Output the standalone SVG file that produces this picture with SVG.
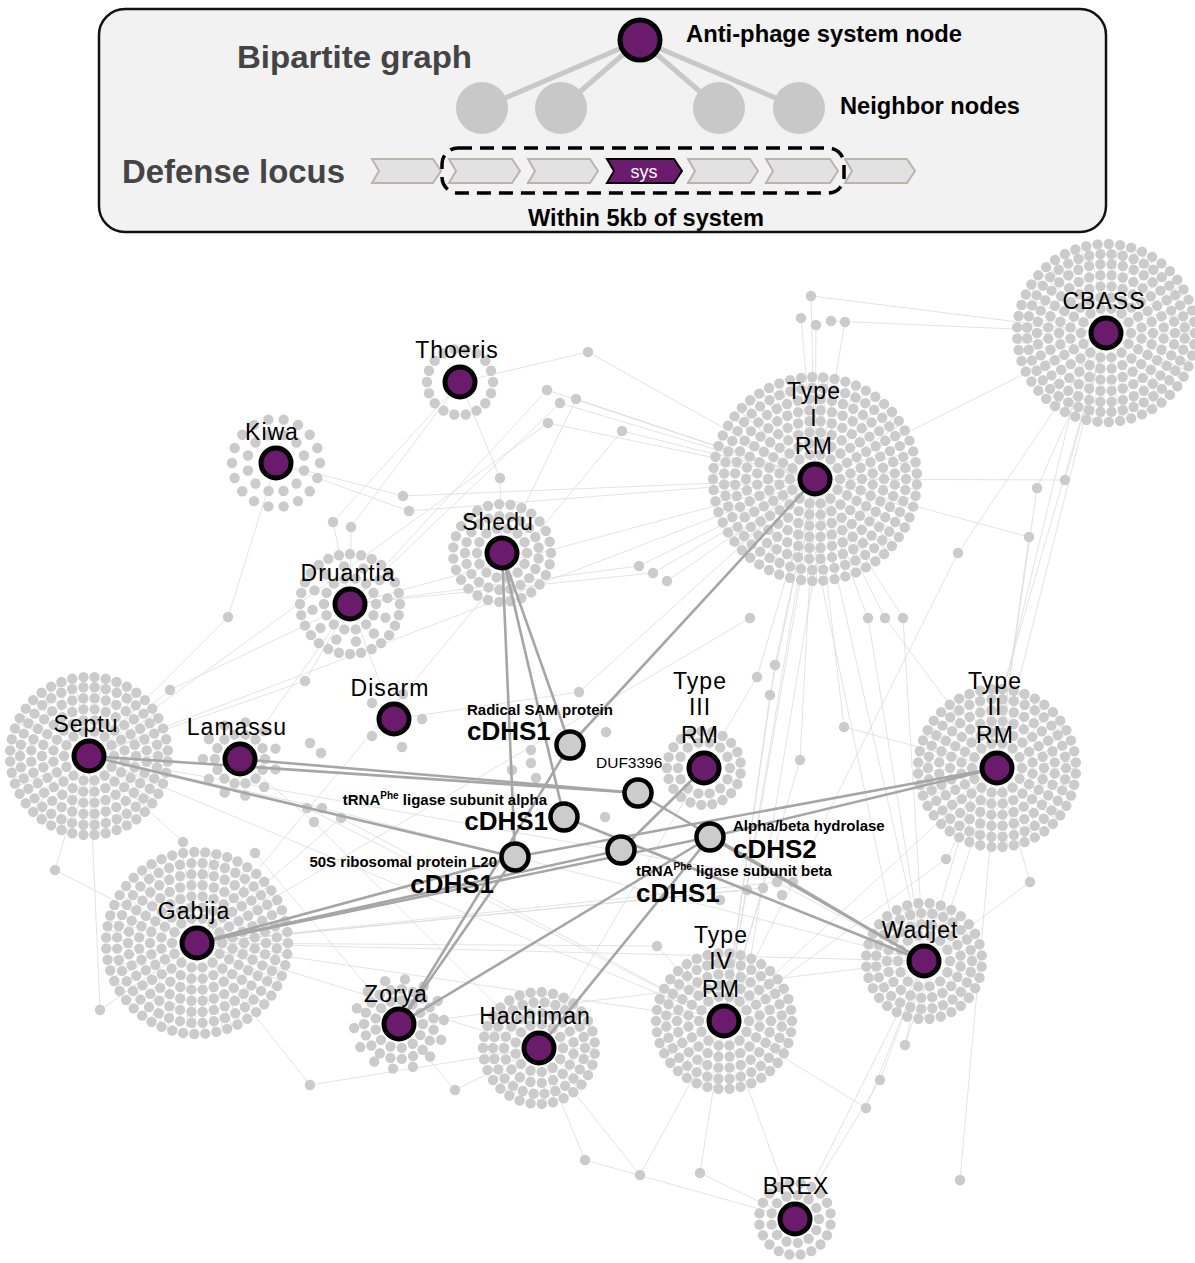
<svg xmlns="http://www.w3.org/2000/svg" width="1195" height="1263" viewBox="0 0 1195 1263">
<style>
.le{stroke:#dcdcdc;stroke-width:0.8;fill:none}
.he{stroke:#a6a6a6;stroke-width:2.6;fill:none}
.ring{fill:none;stroke:#cbcbcb;stroke-width:10.4;stroke-linecap:round;stroke-dasharray:0 1}
.rad{fill:none;stroke:#e4e4e4;stroke-dasharray:0.7 5}
.dot{fill:#cbcbcb}
.sys{fill:#6b1b6b;stroke:#000;stroke-width:5}
.nb{fill:#cccccc;stroke:#000;stroke-width:4.5}
.lab{font-family:"Liberation Sans",Arial,sans-serif;font-size:23px;fill:#000;text-anchor:middle;letter-spacing:1px}
.sm{font-family:"Liberation Sans",Arial,sans-serif;font-size:15px;font-weight:bold;fill:#000}
.big{font-family:"Liberation Sans",Arial,sans-serif;font-size:26px;font-weight:bold;fill:#000}
.sup{font-size:10px}
.lg{font-family:"Liberation Sans",Arial,sans-serif;font-weight:bold}
.gene{fill:#e2e2e2;stroke:#b9b5ab;stroke-width:2}
</style>

<g id="legend">
<rect x="99" y="9" width="1007" height="223" rx="26" fill="#f2f2f2" stroke="#111" stroke-width="2.5"/>
<text class="lg" x="237" y="68" font-size="32" fill="#444" textLength="235" lengthAdjust="spacingAndGlyphs">Bipartite graph</text>
<text class="lg" x="122" y="183" font-size="34" fill="#444" textLength="223" lengthAdjust="spacingAndGlyphs">Defense locus</text>
<g stroke="#c8c8c8" stroke-width="5">
<line x1="640" y1="40" x2="482" y2="108"/><line x1="640" y1="40" x2="561" y2="108"/>
<line x1="640" y1="40" x2="719" y2="108"/><line x1="640" y1="40" x2="799" y2="108"/>
</g>
<g fill="#c8c8c8">
<circle cx="482" cy="108" r="26"/><circle cx="561" cy="108" r="26"/>
<circle cx="719" cy="108" r="26"/><circle cx="799" cy="108" r="26"/>
</g>
<circle cx="640" cy="40" r="20" class="sys"/>
<text class="lg" x="686" y="42" font-size="24" fill="#000" textLength="276" lengthAdjust="spacingAndGlyphs">Anti-phage system node</text>
<text class="lg" x="840" y="114" font-size="24" fill="#000" textLength="180" lengthAdjust="spacingAndGlyphs">Neighbor nodes</text>
<polygon class="gene" points="372,159 433,159 441,171 433,183 372,183 379,171"/>
<polygon class="gene" points="449,159 512,159 520,171 512,183 449,183 456,171"/>
<polygon class="gene" points="528,159 590,159 598,171 590,183 528,183 535,171"/>
<polygon points="607,159 674,159 682,171 674,183 607,183 614,171" fill="#6b1b6e" stroke="#000" stroke-width="2"/>
<text x="644" y="178" font-family="Liberation Sans,Arial,sans-serif" font-size="18" fill="#fff" text-anchor="middle">sys</text>
<polygon class="gene" points="688,159 750,159 758,171 750,183 688,183 695,171"/>
<polygon class="gene" points="766,159 830,159 838,171 830,183 766,183 773,171"/>
<polygon class="gene" points="845,159 907,159 915,171 907,183 845,183 852,171"/>
<rect x="442" y="148" width="402" height="45" rx="16" fill="none" stroke="#000" stroke-width="3.5" stroke-dasharray="14 8"/>
<text class="lg" x="528" y="226" font-size="23" fill="#000" textLength="236" lengthAdjust="spacingAndGlyphs">Within 5kb of system</text>
</g>

<g id="light-edges" class="le">
<line x1="276" y1="463" x2="403" y2="496"/><line x1="403" y1="496" x2="815" y2="479"/>
<line x1="409" y1="511" x2="815" y2="479"/><line x1="409" y1="511" x2="276" y2="463"/>
<line x1="333" y1="522" x2="460" y2="382"/><line x1="351" y1="527" x2="460" y2="382"/>
<line x1="333" y1="522" x2="350" y2="604"/><line x1="351" y1="527" x2="350" y2="604"/>
<line x1="500" y1="478" x2="460" y2="382"/><line x1="500" y1="478" x2="502" y2="553"/>
<line x1="228" y1="617" x2="276" y2="463"/><line x1="228" y1="617" x2="89" y2="756"/>
<line x1="588" y1="352" x2="815" y2="479"/><line x1="588" y1="352" x2="460" y2="382"/>
<line x1="547" y1="390" x2="815" y2="479"/><line x1="560" y1="403" x2="815" y2="479"/>
<line x1="576" y1="399" x2="815" y2="479"/><line x1="547" y1="390" x2="350" y2="604"/>
<line x1="560" y1="403" x2="350" y2="604"/><line x1="576" y1="399" x2="502" y2="553"/>
<line x1="548" y1="423" x2="89" y2="756"/><line x1="548" y1="423" x2="815" y2="479"/>
<line x1="622" y1="431" x2="815" y2="479"/><line x1="622" y1="431" x2="197" y2="943"/>
<line x1="639" y1="566" x2="350" y2="604"/><line x1="653" y1="573" x2="350" y2="604"/>
<line x1="667" y1="581" x2="815" y2="479"/><line x1="653" y1="573" x2="815" y2="479"/>
<line x1="639" y1="566" x2="815" y2="479"/><line x1="750" y1="618" x2="197" y2="943"/>
<line x1="579" y1="692" x2="394" y2="719"/><line x1="579" y1="692" x2="815" y2="479"/>
<line x1="811" y1="296" x2="1106" y2="333"/><line x1="801" y1="318" x2="815" y2="479"/>
<line x1="816" y1="325" x2="815" y2="479"/><line x1="831" y1="321" x2="1106" y2="333"/>
<line x1="845" y1="322" x2="724" y2="1021"/><line x1="811" y1="296" x2="815" y2="479"/>
<line x1="868" y1="618" x2="815" y2="479"/><line x1="868" y1="618" x2="924" y2="961"/>
<line x1="885" y1="618" x2="815" y2="479"/><line x1="885" y1="618" x2="997" y2="768"/>
<line x1="903" y1="618" x2="815" y2="479"/><line x1="903" y1="618" x2="924" y2="961"/>
<line x1="1065" y1="480" x2="1106" y2="333"/><line x1="1065" y1="480" x2="815" y2="479"/>
<line x1="1037" y1="488" x2="1106" y2="333"/><line x1="1037" y1="488" x2="997" y2="768"/>
<line x1="1029" y1="537" x2="815" y2="479"/><line x1="1029" y1="537" x2="997" y2="768"/>
<line x1="958" y1="553" x2="1106" y2="333"/><line x1="958" y1="553" x2="724" y2="1021"/>
<line x1="770" y1="695" x2="815" y2="479"/><line x1="770" y1="695" x2="724" y2="1021"/>
<line x1="757" y1="677" x2="815" y2="479"/><line x1="757" y1="677" x2="539" y2="1048"/>
<line x1="775" y1="665" x2="724" y2="1021"/><line x1="775" y1="665" x2="815" y2="479"/>
<line x1="844" y1="727" x2="815" y2="479"/><line x1="844" y1="727" x2="997" y2="768"/>
<line x1="800" y1="760" x2="724" y2="1021"/><line x1="800" y1="760" x2="815" y2="479"/>
<line x1="307" y1="808" x2="89" y2="756"/><line x1="307" y1="808" x2="724" y2="1021"/>
<line x1="322" y1="808" x2="89" y2="756"/><line x1="322" y1="808" x2="924" y2="961"/>
<line x1="341" y1="818" x2="197" y2="943"/><line x1="341" y1="818" x2="724" y2="1021"/>
<line x1="314" y1="822" x2="240" y2="759"/><line x1="314" y1="822" x2="539" y2="1048"/>
<line x1="747" y1="890" x2="197" y2="943"/><line x1="747" y1="890" x2="924" y2="961"/>
<line x1="763" y1="888" x2="197" y2="943"/><line x1="763" y1="888" x2="724" y2="1021"/>
<line x1="777" y1="882" x2="197" y2="943"/><line x1="777" y1="882" x2="924" y2="961"/>
<line x1="793" y1="882" x2="89" y2="756"/><line x1="793" y1="882" x2="924" y2="961"/>
<line x1="657" y1="946" x2="197" y2="943"/><line x1="657" y1="946" x2="724" y2="1021"/>
<line x1="946" y1="859" x2="997" y2="768"/><line x1="946" y1="859" x2="724" y2="1021"/>
<line x1="1030" y1="882" x2="997" y2="768"/><line x1="1030" y1="882" x2="924" y2="961"/>
<line x1="310" y1="1085" x2="197" y2="943"/><line x1="310" y1="1085" x2="539" y2="1048"/>
<line x1="585" y1="1160" x2="539" y2="1048"/><line x1="585" y1="1160" x2="795" y2="1219"/>
<line x1="640" y1="1175" x2="539" y2="1048"/><line x1="640" y1="1175" x2="724" y2="1021"/>
<line x1="700" y1="1173" x2="724" y2="1021"/><line x1="700" y1="1173" x2="795" y2="1219"/>
<line x1="866" y1="1108" x2="924" y2="961"/><line x1="866" y1="1108" x2="724" y2="1021"/>
<line x1="905" y1="1045" x2="924" y2="961"/><line x1="905" y1="1045" x2="997" y2="768"/>
<line x1="960" y1="1180" x2="997" y2="768"/><line x1="880" y1="1080" x2="924" y2="961"/>
<line x1="880" y1="1080" x2="795" y2="1219"/><line x1="455" y1="1090" x2="399" y2="1024"/>
<line x1="455" y1="1090" x2="539" y2="1048"/>
<line x1="197" y1="943" x2="924" y2="961"/><line x1="197" y1="943" x2="724" y2="1021"/>
<line x1="89" y1="756" x2="724" y2="1021"/><line x1="399" y1="1024" x2="924" y2="961"/>
<line x1="815" y1="479" x2="724" y2="1021"/><line x1="830" y1="479" x2="740" y2="1021"/>
<line x1="815" y1="479" x2="924" y2="961"/><line x1="800" y1="479" x2="900" y2="961"/>
<line x1="997" y1="768" x2="724" y2="1021"/><line x1="1106" y1="333" x2="924" y2="961"/>
<line x1="1106" y1="333" x2="997" y2="768"/><line x1="1090" y1="333" x2="985" y2="768"/>
<line x1="1106" y1="333" x2="815" y2="479"/><line x1="350" y1="604" x2="815" y2="479"/>
<line x1="170" y1="690" x2="89" y2="756"/><line x1="170" y1="690" x2="350" y2="604"/>
<line x1="305" y1="681" x2="350" y2="604"/><line x1="305" y1="681" x2="89" y2="756"/>
<line x1="55" y1="870" x2="89" y2="756"/><line x1="55" y1="870" x2="197" y2="943"/>
<line x1="183" y1="842" x2="89" y2="756"/><line x1="255" y1="853" x2="399" y2="1024"/>
<line x1="100" y1="1010" x2="197" y2="943"/><line x1="100" y1="1010" x2="89" y2="756"/>
<line x1="394" y1="719" x2="350" y2="604"/><line x1="89" y1="756" x2="815" y2="479"/>
<line x1="240" y1="759" x2="350" y2="604"/><line x1="197" y1="943" x2="539" y2="1048"/>
<line x1="724" y1="1021" x2="795" y2="1219"/><line x1="924" y1="961" x2="795" y2="1219"/>
</g>

<g id="clusters">
<g id="dots-CBASS" transform="translate(1106,333)">
<circle r="53" class="rad" stroke-width="72"/>
<circle class="ring" r="25" pathLength="14"/><circle class="ring" r="36" pathLength="20" stroke-dashoffset="0.5"/>
<circle class="ring" r="47" pathLength="26"/><circle class="ring" r="58" pathLength="32" stroke-dashoffset="0.5"/>
<circle class="ring" r="69" pathLength="38"/><circle class="ring" r="79" pathLength="44" stroke-dashoffset="0.5"/>
<circle class="ring" r="89" pathLength="49"/>
</g>
<g id="dots-TypeI" transform="translate(815,479)">
<circle r="59" class="rad" stroke-width="84"/>
<circle class="ring" r="25" pathLength="14"/><circle class="ring" r="36" pathLength="20" stroke-dashoffset="0.5"/>
<circle class="ring" r="47" pathLength="26"/><circle class="ring" r="58" pathLength="32" stroke-dashoffset="0.5"/>
<circle class="ring" r="69" pathLength="38"/><circle class="ring" r="80" pathLength="44" stroke-dashoffset="0.5"/>
<circle class="ring" r="91" pathLength="51"/><circle class="ring" r="102" pathLength="57" stroke-dashoffset="0.5"/>
</g>
<g id="dots-Septu" transform="translate(89,756)">
<circle r="48" class="rad" stroke-width="62"/>
<circle class="ring" r="25" pathLength="14"/><circle class="ring" r="36" pathLength="20" stroke-dashoffset="0.5"/>
<circle class="ring" r="47" pathLength="26"/><circle class="ring" r="58" pathLength="32" stroke-dashoffset="0.5"/>
<circle class="ring" r="69" pathLength="38"/><circle class="ring" r="79" pathLength="44" stroke-dashoffset="0.5"/>
</g>
<g id="dots-Gabija" transform="translate(197,943)">
<circle r="54" class="rad" stroke-width="74"/>
<circle class="ring" r="25" pathLength="14"/><circle class="ring" r="36" pathLength="20" stroke-dashoffset="0.5"/>
<circle class="ring" r="47" pathLength="26"/><circle class="ring" r="58" pathLength="32" stroke-dashoffset="0.5"/>
<circle class="ring" r="69" pathLength="38"/><circle class="ring" r="80" pathLength="44" stroke-dashoffset="0.5"/>
<circle class="ring" r="91" pathLength="51"/>
</g>
<g id="dots-TypeII" transform="translate(997,768)">
<circle r="48" class="rad" stroke-width="63"/>
<circle class="ring" r="25" pathLength="14"/><circle class="ring" r="36" pathLength="20" stroke-dashoffset="0.5"/>
<circle class="ring" r="47" pathLength="26"/><circle class="ring" r="58" pathLength="32" stroke-dashoffset="0.5"/>
<circle class="ring" r="69" pathLength="38"/><circle class="ring" r="79" pathLength="44" stroke-dashoffset="0.5"/>
</g>
<g id="dots-TypeIV" transform="translate(724,1021)">
<circle r="42" class="rad" stroke-width="51"/>
<circle class="ring" r="25" pathLength="14"/><circle class="ring" r="36" pathLength="20" stroke-dashoffset="0.5"/>
<circle class="ring" r="47" pathLength="26"/><circle class="ring" r="58" pathLength="32" stroke-dashoffset="0.5"/>
<circle class="ring" r="68" pathLength="38"/>
</g>
<g id="dots-Wadjet" transform="translate(924,961)">
<circle r="37" class="rad" stroke-width="41"/>
<circle class="ring" r="26" pathLength="14"/><circle class="ring" r="37" pathLength="21" stroke-dashoffset="0.5"/>
<circle class="ring" r="48" pathLength="27"/><circle class="ring" r="58" pathLength="32" stroke-dashoffset="0.5"/>
</g>
<g id="dots-Hachiman" transform="translate(539,1048)">
<circle r="36" class="rad" stroke-width="39"/>
<circle class="ring" r="24" pathLength="13"/><circle class="ring" r="35" pathLength="19" stroke-dashoffset="0.5"/>
<circle class="ring" r="46" pathLength="26"/><circle class="ring" r="56" pathLength="31" stroke-dashoffset="0.5"/>
</g>
<g id="dots-Shedu" transform="translate(502,553)">
<circle class="ring" r="25" pathLength="14"/><circle class="ring" r="37" pathLength="21" stroke-dashoffset="0.5"/>
<circle class="ring" r="49" pathLength="27"/>
</g>
<g id="dots-Druantia" transform="translate(350,604)">
<circle class="ring" r="26" pathLength="14"/><circle class="ring" r="38" pathLength="12" stroke-dashoffset="0.3"/>
<circle class="ring" r="50" pathLength="28"/>
</g>
<g id="dots-Zorya" transform="translate(399,1024)">
<circle class="ring" r="24" pathLength="13"/><circle class="ring" r="35" pathLength="19" stroke-dashoffset="0.5"/>
<circle class="ring" r="45" pathLength="14" stroke-dashoffset="0.2"/>
</g>
<g id="dots-Thoeris" transform="translate(460,382)">
<circle class="ring" r="33" pathLength="18"/>
</g>
<g id="dots-Kiwa" transform="translate(276,463)">
<circle class="ring" r="29" pathLength="12" stroke-dashoffset="0.5"/><circle class="ring" r="44" pathLength="18"/>
</g>
<g id="dots-Lamassu" transform="translate(240,759)">
<circle class="ring" r="25" pathLength="14"/><circle class="ring" r="37" pathLength="11" stroke-dashoffset="0.5"/>
</g>
<g id="dots-TypeIII" transform="translate(704,768)">
<circle class="ring" r="26" pathLength="14"/><circle class="ring" r="37" pathLength="21" stroke-dashoffset="0.5"/>
</g>
<g id="dots-BREX" transform="translate(795,1219)">
<circle class="ring" r="24" pathLength="13"/><circle class="ring" r="36" pathLength="20" stroke-dashoffset="0.5"/>
</g>
<g id="dots-loose" class="dot">
<circle cx="372" cy="703" r="5.2"/><circle cx="422" cy="719" r="5.2"/><circle cx="372" cy="736" r="5.2"/>
<circle cx="402" cy="747" r="5.2"/><circle cx="403" cy="694" r="5.2"/>
<circle cx="403" cy="496" r="5.2"/><circle cx="409" cy="511" r="5.2"/><circle cx="333" cy="522" r="5.2"/>
<circle cx="351" cy="527" r="5.2"/><circle cx="500" cy="478" r="5.2"/><circle cx="228" cy="617" r="5.2"/>
<circle cx="588" cy="352" r="5.2"/><circle cx="547" cy="390" r="5.2"/><circle cx="560" cy="403" r="5.2"/>
<circle cx="576" cy="399" r="5.2"/><circle cx="548" cy="423" r="5.2"/><circle cx="622" cy="431" r="5.2"/>
<circle cx="639" cy="566" r="5.2"/><circle cx="653" cy="573" r="5.2"/><circle cx="667" cy="581" r="5.2"/>
<circle cx="750" cy="618" r="5.2"/><circle cx="579" cy="692" r="5.2"/><circle cx="606" cy="732" r="5.2"/>
<circle cx="531" cy="750" r="5.2"/><circle cx="531" cy="763" r="5.2"/><circle cx="512" cy="770" r="5.2"/>
<circle cx="536" cy="778" r="5.2"/><circle cx="605" cy="817" r="5.2"/>
<circle cx="811" cy="296" r="5.2"/><circle cx="801" cy="318" r="5.2"/><circle cx="816" cy="325" r="5.2"/>
<circle cx="831" cy="321" r="5.2"/><circle cx="845" cy="322" r="5.2"/>
<circle cx="868" cy="618" r="5.2"/><circle cx="885" cy="618" r="5.2"/><circle cx="903" cy="618" r="5.2"/>
<circle cx="1065" cy="480" r="5.2"/><circle cx="1037" cy="488" r="5.2"/><circle cx="1029" cy="537" r="5.2"/>
<circle cx="958" cy="553" r="5.2"/><circle cx="770" cy="695" r="5.2"/><circle cx="757" cy="677" r="5.2"/>
<circle cx="775" cy="665" r="5.2"/><circle cx="844" cy="727" r="5.2"/><circle cx="800" cy="760" r="5.2"/>
<circle cx="307" cy="808" r="5.2"/><circle cx="322" cy="808" r="5.2"/><circle cx="341" cy="818" r="5.2"/>
<circle cx="314" cy="822" r="5.2"/><circle cx="747" cy="890" r="5.2"/><circle cx="763" cy="888" r="5.2"/>
<circle cx="777" cy="882" r="5.2"/><circle cx="793" cy="882" r="5.2"/><circle cx="782" cy="895" r="5.2"/>
<circle cx="720" cy="900" r="5.2"/><circle cx="657" cy="946" r="5.2"/><circle cx="946" cy="859" r="5.2"/>
<circle cx="1030" cy="882" r="5.2"/><circle cx="310" cy="1085" r="5.2"/><circle cx="585" cy="1160" r="5.2"/>
<circle cx="640" cy="1175" r="5.2"/><circle cx="700" cy="1173" r="5.2"/><circle cx="866" cy="1108" r="5.2"/>
<circle cx="905" cy="1045" r="5.2"/><circle cx="960" cy="1180" r="5.2"/><circle cx="880" cy="1080" r="5.2"/>
<circle cx="455" cy="1090" r="5.2"/><circle cx="170" cy="690" r="5.2"/><circle cx="305" cy="681" r="5.2"/>
<circle cx="55" cy="870" r="5.2"/><circle cx="183" cy="842" r="5.2"/><circle cx="255" cy="853" r="5.2"/>
<circle cx="100" cy="1010" r="5.2"/><circle cx="310" cy="743" r="5.2"/><circle cx="321" cy="753" r="5.2"/>
</g>
</g>

<g id="connectors" class="he">
<line x1="502" y1="553" x2="570" y2="745"/>
<line x1="502" y1="553" x2="564" y2="817"/>
<line x1="502" y1="553" x2="515" y2="857"/>
<line x1="815" y1="479" x2="570" y2="745"/>
<line x1="89" y1="756" x2="638" y2="793"/>
<line x1="240" y1="759" x2="638" y2="793"/>
<line x1="89" y1="756" x2="515" y2="857"/>
<line x1="197" y1="943" x2="515" y2="857"/>
<line x1="197" y1="943" x2="621" y2="850"/>
<line x1="197" y1="943" x2="710" y2="837"/>
<line x1="997" y1="768" x2="710" y2="837"/>
<line x1="997" y1="768" x2="515" y2="857"/>
<line x1="399" y1="1024" x2="515" y2="857"/>
<line x1="399" y1="1024" x2="570" y2="745"/>
<line x1="399" y1="1024" x2="710" y2="837"/>
<line x1="539" y1="1048" x2="710" y2="837"/>
<line x1="564" y1="817" x2="924" y2="961"/>
<line x1="710" y1="837" x2="924" y2="961"/>
<line x1="638" y1="793" x2="924" y2="961"/>
<line x1="704" y1="768" x2="621" y2="850"/>
</g>

<g id="node-CBASS"><circle cx="1106" cy="333" r="15" class="sys"/><text class="lab" x="1104" y="309">CBASS</text></g>
<g id="node-TypeIRM"><circle cx="815" cy="479" r="15" class="sys"/><text class="lab" x="814" y="399">Type</text><text class="lab" x="814" y="426">I</text><text class="lab" x="814" y="454">RM</text></g>
<g id="node-Thoeris"><circle cx="460" cy="382" r="15" class="sys"/><text class="lab" x="457" y="358">Thoeris</text></g>
<g id="node-Kiwa"><circle cx="276" cy="463" r="15" class="sys"/><text class="lab" x="272" y="440">Kiwa</text></g>
<g id="node-Shedu"><circle cx="502" cy="553" r="15" class="sys"/><text class="lab" x="498" y="530">Shedu</text></g>
<g id="node-Druantia"><circle cx="350" cy="604" r="15" class="sys"/><text class="lab" x="348" y="581">Druantia</text></g>
<g id="node-Disarm"><circle cx="394" cy="719" r="15" class="sys"/><text class="lab" x="390" y="696">Disarm</text></g>
<g id="node-Septu"><circle cx="89" cy="756" r="15" class="sys"/><text class="lab" x="86" y="732">Septu</text></g>
<g id="node-Lamassu"><circle cx="240" cy="759" r="15" class="sys"/><text class="lab" x="237" y="735">Lamassu</text></g>
<g id="node-TypeIIIRM"><circle cx="704" cy="768" r="15" class="sys"/><text class="lab" x="700" y="689">Type</text><text class="lab" x="700" y="715">III</text><text class="lab" x="700" y="743">RM</text></g>
<g id="node-TypeIIRM"><circle cx="997" cy="768" r="15" class="sys"/><text class="lab" x="995" y="689">Type</text><text class="lab" x="995" y="715">II</text><text class="lab" x="995" y="743">RM</text></g>
<g id="node-Gabija"><circle cx="197" cy="943" r="15" class="sys"/><text class="lab" x="194" y="919">Gabija</text></g>
<g id="node-Zorya"><circle cx="399" cy="1024" r="15" class="sys"/><text class="lab" x="396" y="1002">Zorya</text></g>
<g id="node-Hachiman"><circle cx="539" cy="1048" r="15" class="sys"/><text class="lab" x="535" y="1024">Hachiman</text></g>
<g id="node-TypeIVRM"><circle cx="724" cy="1021" r="15" class="sys"/><text class="lab" x="721" y="943">Type</text><text class="lab" x="721" y="969">IV</text><text class="lab" x="721" y="997">RM</text></g>
<g id="node-Wadjet"><circle cx="924" cy="961" r="15" class="sys"/><text class="lab" x="920" y="938">Wadjet</text></g>
<g id="node-BREX"><circle cx="795" cy="1219" r="15" class="sys"/><text class="lab" x="796" y="1194">BREX</text></g>

<g id="node-RadicalSAM"><circle cx="570" cy="745" r="13.5" class="nb"/>
<text class="sm" x="467" y="715">Radical SAM protein</text><text class="big" x="467" y="740">cDHS1</text></g>
<g id="node-DUF3396"><circle cx="638" cy="793" r="13.5" class="nb"/>
<text x="596" y="768" font-family="Liberation Sans,Arial,sans-serif" font-size="15.5" fill="#000">DUF3396</text></g>
<g id="node-tRNAalpha"><circle cx="564" cy="817" r="13.5" class="nb"/>
<text class="sm" x="547" y="805" text-anchor="end">tRNA<tspan class="sup" dy="-6">Phe</tspan><tspan dy="6"> ligase subunit alpha</tspan></text>
<text class="big" x="548" y="830" text-anchor="end">cDHS1</text></g>
<g id="node-50S"><circle cx="515" cy="857" r="13.5" class="nb"/>
<text class="sm" x="497" y="867" text-anchor="end">50S ribosomal protein L20</text>
<text class="big" x="494" y="893" text-anchor="end">cDHS1</text></g>
<g id="node-tRNAbeta"><circle cx="621" cy="850" r="13.5" class="nb"/>
<text class="sm" x="636" y="876">tRNA<tspan class="sup" dy="-6">Phe</tspan><tspan dy="6"> ligase subunit beta</tspan></text>
<text class="big" x="636" y="902">cDHS1</text></g>
<g id="node-hydrolase"><circle cx="710" cy="837" r="13.5" class="nb"/>
<text class="sm" x="733" y="831">Alpha/beta hydrolase</text>
<text class="big" x="733" y="858">cDHS2</text></g>
</svg>
